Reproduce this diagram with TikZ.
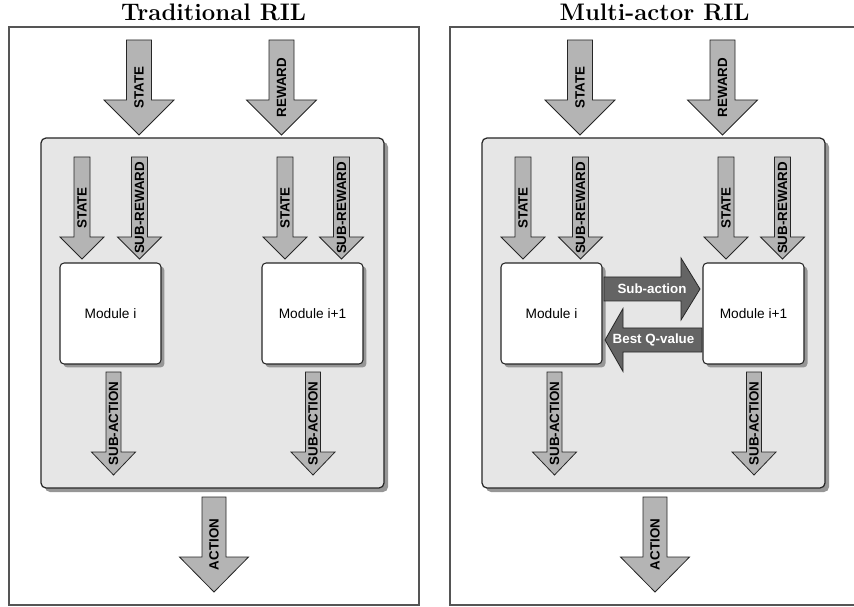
\documentclass[tikz,border=0pt]{standalone}
\usepackage{fontspec}
\setsansfont{Liberation Sans}
\usetikzlibrary{shadows}
\definecolor{framegray}{RGB}{85,85,85}
\definecolor{corefill}{RGB}{230,230,230}
\definecolor{arrowfill}{RGB}{180,180,180}
\definecolor{darkarrow}{RGB}{100,100,100}
\definecolor{shadowgray}{RGB}{150,150,150}
% fat arrow pointing down: name, x, top, tip, shaft half, head half, head length, label
\newcommand{\fatdown}[8]{%
  \draw[fatarrow] (#2-#5,#3) -- (#2+#5,#3) -- (#2+#5,#4-#7) -- (#2+#6,#4-#7)
    -- (#2,#4) -- (#2-#6,#4-#7) -- (#2-#5,#4-#7) -- cycle;
  \node[arrtext] (#1) at (#2,{(#3+#4)/2}) {#8};}
% fat horizontal arrow: name, tail, head base, tip, y, shaft half, head half, label, style
\newcommand{\fathoriz}[9]{%
  \draw[#9] (#2,#5-#6) -- (#3,#5-#6) -- (#3,#5-#7) -- (#4,#5) -- (#3,#5+#7)
    -- (#3,#5+#6) -- (#2,#5+#6) -- cycle;
  \node[flowtext] (#1) at ({(#2+#4)/2},#5) {#8};}

\begin{document}
\begin{tikzpicture}[
  x=0.02cm, y=-0.02cm,
  panel/.style={draw=framegray, line width=0.9pt, fill=white},
  core/.style={draw=black!85, fill=corefill, line width=0.7pt, rounded corners=0.1cm,
    drop shadow={shadow xshift=0.08cm, shadow yshift=-0.08cm, fill=shadowgray, opacity=1}},
  module/.style={draw=black!85, fill=white, line width=0.6pt, rounded corners=0.08cm,
    minimum width=2.02cm, minimum height=2.02cm, inner sep=0pt,
    font=\sffamily\fontsize{7.8}{9}\selectfont,
    drop shadow={shadow xshift=0.07cm, shadow yshift=-0.07cm, fill=shadowgray, opacity=1}},
  fatarrow/.style={draw=black!85, fill=arrowfill, line width=0.45pt},
  darkfat/.style={draw=black!85, fill=darkarrow, line width=0.45pt},
  arrtext/.style={font=\sffamily\bfseries\fontsize{7.6}{9}\selectfont, rotate=90, inner sep=0pt},
  flowtext/.style={font=\sffamily\bfseries\fontsize{7.6}{9}\selectfont, text=white, inner sep=0pt},
  heading/.style={font=\bfseries\fontsize{13.6}{16}\selectfont}
]
\useasboundingbox (0,0) rectangle (854,607);
\foreach \dx/\pw/\pn/\ttl in {0/410/L/Traditional RIL, 441/460/R/Multi-actor RIL}{
\begin{scope}[shift={(\dx,0)}, name prefix=\pn-]
  \node[heading] (title) at (213.5,12) {\ttl};
  \draw[panel] (9,27) rectangle (9+\pw,605);
  \draw[core] (41,138) rectangle (384,488);
  % signals from the environment
  \fatdown{state}{139}{40}{135}{12.5}{35}{35}{STATE}
  \fatdown{reward}{281.5}{40}{135}{12.5}{35}{35}{REWARD}
  % module inputs
  \fatdown{statei}{82}{157}{259}{8}{22}{22}{STATE}
  \fatdown{subrewi}{139.5}{157}{259}{8}{22}{22}{SUB-REWARD}
  \fatdown{statej}{285}{157}{259}{8}{22}{22}{STATE}
  \fatdown{subrewj}{341.5}{157}{259}{8}{22}{22}{SUB-REWARD}
  \node[module] (modi) at (110.5,313.5) {Module i};
  \node[module] (modj) at (312.5,313.5) {Module i+1};
  % module outputs
  \fatdown{subacti}{113.5}{372}{475}{7.5}{22}{23}{SUB-ACTION}
  \fatdown{subactj}{313}{372}{475}{7.5}{22}{23}{SUB-ACTION}
  \fatdown{action}{214}{497}{592}{12}{34.5}{35}{ACTION}
\end{scope}
}
% exchange between the actors
\fathoriz{subact}{604}{681}{700}{289}{12}{31}{Sub-action}{darkfat}
\fathoriz{bestq}{702}{623}{605}{340}{12}{31.5}{Best Q-value}{darkfat}
\end{tikzpicture}
\end{document}
